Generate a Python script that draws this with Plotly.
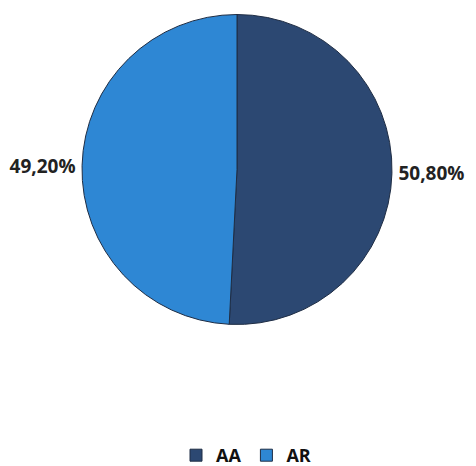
import plotly.graph_objects as go

labels = ["AA", "AR"]
values = [50.8, 49.2]
colors = ["#2c4872", "#2e87d4"]

# pie box in pixels (left, right, top, bottom)
px_l, px_r, px_t, px_b = 74, 384, 6, 317

fig = go.Figure(go.Pie(
    labels=labels,
    values=values,
    sort=False,
    direction="clockwise",
    rotation=0,
    marker=dict(colors=colors, line=dict(color="#1f2d44", width=1)),
    textposition="outside",
    texttemplate="%{percent:.2%}",
    textfont=dict(family="Open Sans", size=19, color="#222222", weight="bold"),
    domain=dict(x=[px_l / 476, px_r / 476], y=[1 - px_b / 466, 1 - px_t / 466]),
    hoverinfo="label+percent",
))

fig.update_layout(
    width=476,
    height=466,
    margin=dict(l=0, r=0, t=0, b=0, autoexpand=False),
    separators=",.",
    paper_bgcolor="white",
    plot_bgcolor="white",
    showlegend=True,
    legend=dict(
        orientation="h",
        x=0.5, xanchor="center",
        y=0, yanchor="bottom",
        font=dict(family="Open Sans", size=18, color="#111111", weight="bold"),
        itemwidth=30,
    ),
)

fig.write_html("out.html")
